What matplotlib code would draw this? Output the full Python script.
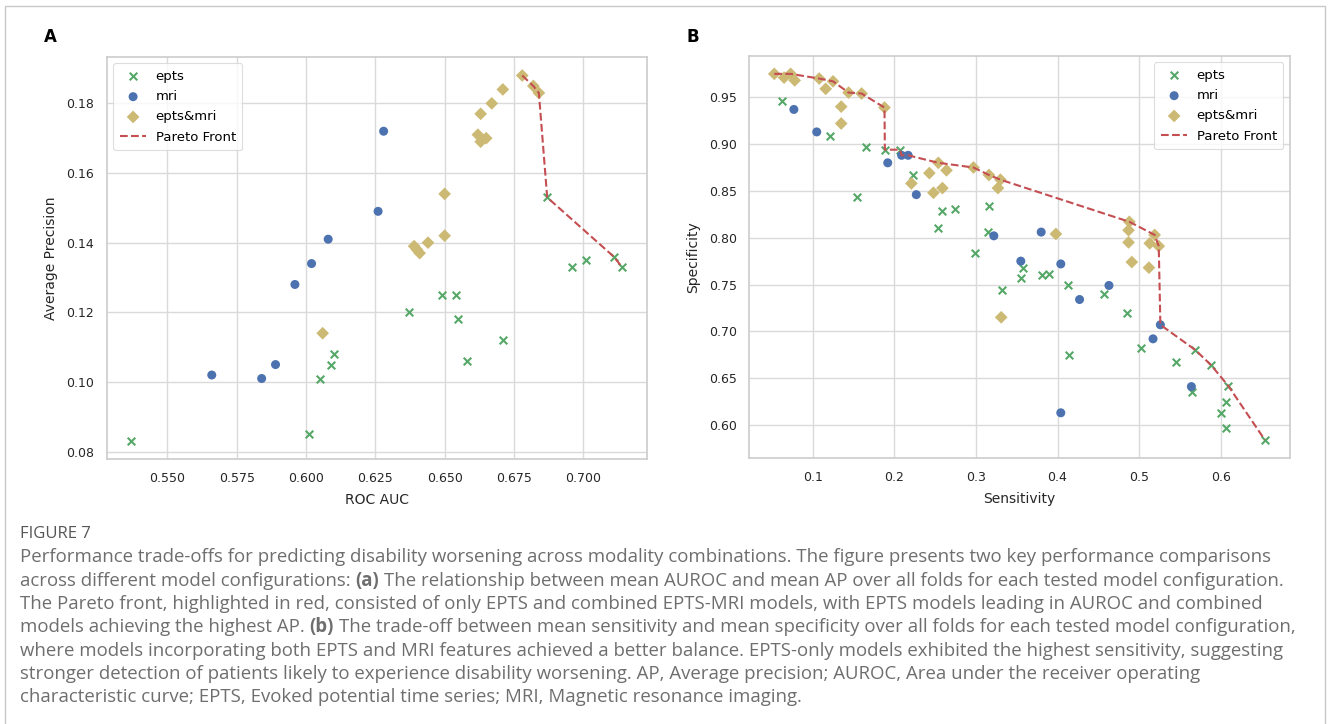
import matplotlib
matplotlib.use("Agg")
import matplotlib.pyplot as plt
from matplotlib.patches import Rectangle
import numpy as np

# ---------------- data ----------------
# Panel A: ROC AUC vs Average Precision
epts_auc = [0.537, 0.601, 0.605, 0.609, 0.610, 0.637, 0.649, 0.654, 0.655, 0.658,
            0.671, 0.687, 0.696, 0.701, 0.711, 0.714]
epts_ap = [0.083, 0.085, 0.101, 0.105, 0.108, 0.120, 0.125, 0.125, 0.118, 0.106,
           0.112, 0.153, 0.133, 0.135, 0.136, 0.133]
mri_auc = [0.566, 0.584, 0.589, 0.596, 0.602, 0.608, 0.626, 0.628]
mri_ap = [0.102, 0.101, 0.105, 0.128, 0.134, 0.141, 0.149, 0.172]
both_auc = [0.606, 0.639, 0.640, 0.641, 0.644, 0.650, 0.650, 0.662, 0.663, 0.665,
            0.663, 0.667, 0.671, 0.678, 0.682, 0.684]
both_ap = [0.114, 0.139, 0.138, 0.137, 0.140, 0.142, 0.154, 0.171, 0.169, 0.170,
           0.177, 0.180, 0.184, 0.188, 0.185, 0.183]

# Panel B: Sensitivity vs Specificity
epts_sens = [0.062, 0.121, 0.165, 0.1885, 0.207, 0.154, 0.223, 0.259, 0.274, 0.253,
             0.316, 0.315, 0.299, 0.358, 0.355, 0.332, 0.381, 0.390, 0.413, 0.457,
             0.485, 0.414, 0.502, 0.545, 0.569, 0.588, 0.609, 0.565, 0.606, 0.600,
             0.606, 0.654]
epts_spec = [0.946, 0.909, 0.897, 0.894, 0.894, 0.843, 0.867, 0.829, 0.831, 0.810,
             0.834, 0.806, 0.784, 0.768, 0.757, 0.744, 0.760, 0.761, 0.749, 0.740,
             0.720, 0.675, 0.682, 0.667, 0.680, 0.664, 0.642, 0.635, 0.625, 0.613,
             0.597, 0.584]
mri_sens = [0.077, 0.105, 0.192, 0.209, 0.217, 0.227, 0.322, 0.380, 0.355, 0.404,
            0.427, 0.463, 0.526, 0.517, 0.564, 0.404]
mri_spec = [0.937, 0.913, 0.880, 0.888, 0.888, 0.846, 0.802, 0.806, 0.775, 0.772,
            0.734, 0.749, 0.707, 0.692, 0.641, 0.613]
both_sens = [0.053, 0.065, 0.073, 0.078, 0.108, 0.125, 0.116, 0.144, 0.160, 0.188,
             0.135, 0.135, 0.254, 0.243, 0.264, 0.221, 0.248, 0.259, 0.297, 0.316,
             0.330, 0.327, 0.398, 0.331, 0.488, 0.487, 0.487, 0.491, 0.519, 0.513,
             0.524, 0.512]
both_spec = [0.975, 0.971, 0.975, 0.968, 0.970, 0.967, 0.959, 0.955, 0.954, 0.939,
             0.940, 0.922, 0.880, 0.869, 0.872, 0.858, 0.848, 0.853, 0.875, 0.867,
             0.862, 0.853, 0.804, 0.715, 0.817, 0.808, 0.795, 0.774, 0.803, 0.794,
             0.791, 0.768]

series_names = ["epts", "mri", "epts&mri"]
front_label = "Pareto Front"
caption_title = "FIGURE 7"
caption_lines = [
    [("Performance trade-offs for predicting disability worsening across modality combinations. The figure presents two key performance comparisons", "normal")],
    [("across different model configurations:", "normal"), ("(a)", "bold"),
     ("The relationship between mean AUROC and mean AP over all folds for each tested model configuration.", "normal")],
    [("The Pareto front, highlighted in red, consisted of only EPTS and combined EPTS-MRI models, with EPTS models leading in AUROC and combined", "normal")],
    [("models achieving the highest AP.", "normal"), ("(b)", "bold"),
     ("The trade-off between mean sensitivity and mean specificity over all folds for each tested model configuration,", "normal")],
    [("where models incorporating both EPTS and MRI features achieved a better balance. EPTS-only models exhibited the highest sensitivity, suggesting", "normal")],
    [("stronger detection of patients likely to experience disability worsening. AP, Average precision; AUROC, Area under the receiver operating", "normal")],
    [("characteristic curve; EPTS, Evoked potential time series; MRI, Magnetic resonance imaging.", "normal")],
]

# ---------------- style ----------------
GREEN = "#55a868"
BLUE = "#4c72b0"
GOLD = "#ccb974"
RED = "#c44e52"
GRID = "#dadada"
EDGE = "#cccccc"

plt.rcParams["font.family"] = ["DejaVu Sans"]

W, H = 1330, 724
fig = plt.figure(figsize=(W / 100, H / 100), dpi=100)
fig.patch.set_facecolor("white")


def pareto(xs, ys):
    pts = list(zip(xs, ys))
    front = []
    for (x, y) in pts:
        dominated = any((qx > x and qy > y) for (qx, qy) in pts)
        if not dominated:
            front.append((x, y))
    front = sorted(set(front), key=lambda p: (p[0], -p[1]))
    return [p[0] for p in front], [p[1] for p in front]


def style_axes(ax):
    ax.set_facecolor("white")
    ax.grid(True, color=GRID, linewidth=1.0)
    ax.set_axisbelow(True)
    for s in ax.spines.values():
        s.set_color(EDGE)
        s.set_linewidth(1.2)
    ax.tick_params(axis="both", length=0, pad=9, labelsize=9, labelcolor="#262626")


def panel(ax, ex, ey, mx, my, bx, by, xlabel, ylabel, loc):
    style_axes(ax)
    ax.scatter(ex, ey, marker="x", s=30, color=GREEN, linewidths=1.5, label=series_names[0], zorder=3)
    ax.scatter(mx, my, marker="o", s=42, color=BLUE, edgecolors="none", label=series_names[1], zorder=3)
    ax.scatter(bx, by, marker="D", s=42, color=GOLD, edgecolors="none", label=series_names[2], zorder=3)
    allx = list(ex) + list(mx) + list(bx)
    ally = list(ey) + list(my) + list(by)
    fx, fy = pareto(allx, ally)
    ax.plot(fx, fy, linestyle="--", color=RED, linewidth=1.5, label=front_label, zorder=4)
    ax.set_xlabel(xlabel, fontsize=10, color="#262626", labelpad=6)
    ax.set_ylabel(ylabel, fontsize=10, color="#262626", labelpad=6)
    leg = ax.legend(loc=loc, fontsize=9.5, frameon=True, borderpad=0.5,
                    handletextpad=0.7, labelspacing=0.55, borderaxespad=0.5)
    leg.get_frame().set_edgecolor("#d5d5d5")
    leg.get_frame().set_linewidth(0.8)


axA = fig.add_axes([106.7 / W, 1 - 459.3 / H, (646.7 - 106.7) / W, (459.3 - 56.7) / H])
panel(axA, epts_auc, epts_ap, mri_auc, mri_ap, both_auc, both_ap,
      "ROC AUC", "Average Precision", "upper left")
axA.set_xlim(0.5281, 0.7229)
axA.set_ylim(0.0778, 0.1934)
axA.set_xticks([0.550, 0.575, 0.600, 0.625, 0.650, 0.675, 0.700])
axA.set_xticklabels(["0.550", "0.575", "0.600", "0.625", "0.650", "0.675", "0.700"])
axA.set_yticks([0.08, 0.10, 0.12, 0.14, 0.16, 0.18])
axA.set_yticklabels(["0.08", "0.10", "0.12", "0.14", "0.16", "0.18"])

axB = fig.add_axes([749.3 / W, 1 - 458.3 / H, (1290 - 749.3) / W, (458.3 - 55.7) / H])
panel(axB, epts_sens, epts_spec, mri_sens, mri_spec, both_sens, both_spec,
      "Sensitivity", "Specificity", "upper right")
axB.set_xlim(0.0224, 0.6848)
axB.set_ylim(0.5644, 0.9944)
axB.set_xticks([0.1, 0.2, 0.3, 0.4, 0.5, 0.6])
axB.set_xticklabels(["0.1", "0.2", "0.3", "0.4", "0.5", "0.6"])
axB.set_yticks([0.60, 0.65, 0.70, 0.75, 0.80, 0.85, 0.90, 0.95])
axB.set_yticklabels(["0.60", "0.65", "0.70", "0.75", "0.80", "0.85", "0.90", "0.95"])

# panel letters
fig.text(50 / W, 1 - 37 / H, "A", fontsize=12, fontweight="bold", ha="center", va="center")
fig.text(693 / W, 1 - 37 / H, "B", fontsize=12, fontweight="bold", ha="center", va="center")

# outer border
fig.patches.append(Rectangle((5 / W, -0.01), (1325 - 5) / W, 1 - 6 / H + 0.01,
                             transform=fig.transFigure, fill=False,
                             edgecolor="#c8c8c8", linewidth=1.0))

# caption
CAP_FONT = ["Open Sans", "DejaVu Sans"]
CAP_COLOR = "#6e6e6e"
CAP_SIZE = 13.4
fig.text(20 / W, 1 - 533.5 / H, caption_title, fontsize=12, color="#555555",
         family=CAP_FONT, ha="left", va="center")

renderer = fig.canvas.get_renderer()


def text_width(s, weight):
    t = fig.text(0, 0, s, fontsize=CAP_SIZE, family=CAP_FONT, fontweight=weight)
    w = t.get_window_extent(renderer).width
    t.remove()
    return w


space_w = text_width("a a", "normal") - text_width("aa", "normal")
y_lines = [557.3, 580.7, 604.0, 627.3, 650.7, 674.0, 697.5]
for segs, yy in zip(caption_lines, y_lines):
    xpx = 20.0
    for i, (s, wgt) in enumerate(segs):
        fig.text(xpx / W, 1 - yy / H, s, fontsize=CAP_SIZE, family=CAP_FONT,
                 fontweight=wgt, color=CAP_COLOR, ha="left", va="center")
        xpx += text_width(s, wgt) + space_w

fig.savefig("out.png", dpi=100, facecolor="white")
